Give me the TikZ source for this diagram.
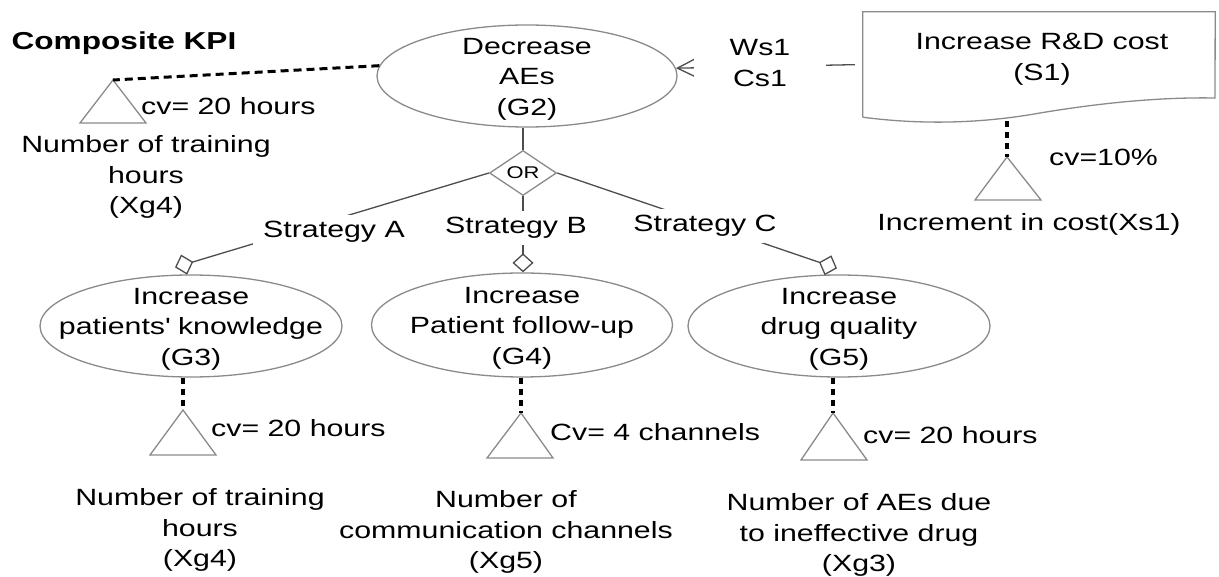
\documentclass[tikz,border=0pt]{standalone}
\usepackage{fontspec}
\setmainfont[FakeStretch=1.29]{Liberation Sans}
\usetikzlibrary{shapes.geometric,arrows.meta,calc}

\definecolor{shapegray}{HTML}{8A8A8A}
\definecolor{linkgray}{HTML}{4D4D4D}

\begin{document}
\begin{tikzpicture}[x=1pt,y=-1pt,
  txt/.style={font=\fontsize{23.5}{30.5}\selectfont, inner sep=0pt, align=center},
  goal/.style={ellipse, draw=shapegray, line width=1.3pt, inner sep=0pt,
    minimum width=302pt, minimum height=102pt},
  goaltxt/.style={txt, yshift=-3pt},
  orgate/.style={diamond, draw=shapegray, line width=1.3pt, aspect=1.5,
    minimum width=67pt, minimum height=45pt, inner sep=0pt,
    font=\fontsize{17}{20}\selectfont},
  kpitri/.style={draw=shapegray, line width=1.3pt, line join=miter},
  dashlink/.style={draw=black, line width=3pt, dash pattern=on 8pt off 5pt},
  dotlink/.style={draw=black, line width=3.5pt, dash pattern=on 6pt off 5pt},
  orlink/.style={draw=linkgray, line width=1.3pt,
    -{Diamond[open,length=19pt,width=21pt]}},
  strat/.style={txt, fill=white, inner xsep=10pt, inner ysep=6pt,
    text height=17pt, text depth=5pt},
]
\useasboundingbox (0,0) rectangle (1219,577);

% title
\node[font=\bfseries\fontsize{24.5}{30}\selectfont, inner sep=0pt] (title) at (124,43) {Composite KPI};

% goals: outline and label
\node[goal, minimum width=300pt] (G2) at (527,76) {};
\node[goaltxt] (G2t) at (G2) {Decrease\\AEs\\(G2)};
\node[goal] (G3) at (191,326) {};
\node[goaltxt] (G3t) at (G3) {Increase\\patients\textquotesingle{} knowledge\\(G3)};
\node[goal, minimum width=301pt, minimum height=104pt] (G4) at (522,325) {};
\node[goaltxt] (G4t) at (G4) {Increase\\Patient follow-up\\(G4)};
\node[goal] (G5) at (839,326) {};
\node[goaltxt] (G5t) at (G5) {Increase\\drug quality\\(G5)};

% OR decomposition
\node[orgate] (or) at (523,173) {OR};
\draw[draw=linkgray, line width=1.3pt] (G2.south -| or.north) -- (or.north);

% soft goal S1 (document shape with wavy bottom)
\node[minimum width=352pt, minimum height=105pt, inner sep=0pt] (S1) at (1039,64.5) {};
\draw[draw=shapegray, line width=1.3pt, line join=miter]
  (S1.south west) -- (S1.north west) -- (S1.north east) -- (1215,98)
  .. controls (1160,97) and (1100,103) .. (1040,113)
  .. controls (990,122) and (930,126) .. (S1.south west);
\node[txt] (S1txt) at (1042,59.5) {Increase R\&D cost\\(S1)};

% KPI apexes
\coordinate (tx4) at (113,80);
\coordinate (t3) at (183,410);
\coordinate (t4) at (521,413);
\coordinate (t5) at (833,413);
\coordinate (ts1) at (1007,157);

% KPI triangles
\draw[kpitri] (tx4) -- ++(-33,43) -- ++(66,0) -- cycle;
\draw[kpitri] (t3) -- ++(-33,45) -- ++(66,0) -- cycle;
\draw[kpitri] (t4) -- ++(-34,45) -- ++(66,0) -- cycle;
\draw[kpitri] (t5) -- ++(-32,47) -- ++(66,0) -- cycle;
\draw[kpitri] (ts1) -- ++(-32,43) -- ++(66,0) -- cycle;

% measurement links
\draw[dashlink] (G2.176) -- (tx4);
\draw[dotlink] (t3 |- G3.south) -- (t3);
\draw[dotlink] (t4 |- G4.south) -- (t4);
\draw[dotlink] (t5 |- G5.south) -- (t5);
\draw[dotlink] ($(ts1 |- S1.south)+(0,4)$) -- (ts1);

% strategy links
\draw[orlink] (or.west) -- ($(G3.north)+(-16,-7)$);
\draw[orlink] (or.south) -- (or.south |- G4.north);
\draw[orlink] (or.east) -- ($(G5.north)+(-2,-6)$);

% contribution link
\draw[draw=linkgray, line width=1.3pt, shorten <=8pt,
  -{Straight Barb[length=20pt,width=20pt]}] (S1.west) -- (G2.3.5);

% link labels
\node[strat] (sa) at (334,232) {Strategy A};
\node[strat] (sb) at (516,228) {Strategy B};
\node[strat] (sc) at (705,226) {Strategy C};
\node[txt, fill=white, inner xsep=36pt, inner ysep=3pt] (ws) at (760,63) {Ws1\\Cs1};

% KPI values
\node[txt, anchor=west] (cvx4) at (141,106) {cv= 20 hours};
\node[txt, anchor=west] (cv3) at (211,428) {cv= 20 hours};
\node[txt, anchor=west] (cv4) at (550,432) {Cv= 4 channels};
\node[txt, anchor=west] (cv5) at (863,435) {cv= 20 hours};
\node[txt, anchor=west] (cvs1) at (1049,157) {cv=10\%};

% KPI names
\node[txt] (nx4) at (146,177) {Number of training\\hours\\(Xg4)};
\node[txt] (n3) at (200,530) {Number of training\\hours\\(Xg4)};
\node[txt] (n4) at (506,532) {Number of\\communication channels\\(Xg5)};
\node[txt] (n5) at (859,535) {Number of AEs due\\to ineffective drug\\(Xg3)};
\node[txt] (ns1) at (1029,224) {Increment in cost(Xs1)};
\end{tikzpicture}
\end{document}
